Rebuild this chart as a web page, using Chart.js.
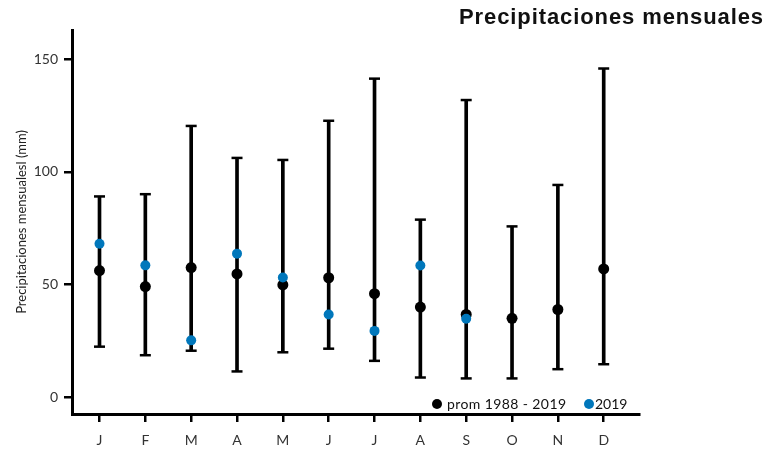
<!DOCTYPE html>
<html>
<head>
<meta charset="utf-8">
<script src="https://cdn.jsdelivr.net/npm/chart.js@4.4.0/dist/chart.umd.min.js"></script>
<style>
  html, body { margin: 0; padding: 0; background: #fff; }
  #wrap { position: relative; width: 774px; height: 449px; }
  #c { position: absolute; left: 0; top: 0; }
  #title { position: absolute; right: 10px; top: 6px; line-height: 22px; font-family: "Liberation Sans", Arial, sans-serif; font-weight: bold; font-size: 22px; letter-spacing: 0.9px; color: #111; white-space: nowrap; }
  .lg { position: absolute; font-family: Lato, "Noto Sans", sans-serif; font-size: 14px; line-height: 16px; color: #111; white-space: nowrap; top: 396px; }
  .dot { position: absolute; width: 10px; height: 10px; border-radius: 50%; top: 399px; }
</style>
</head>
<body>
<div id="wrap">
  <canvas id="c" width="774" height="449"></canvas>
  <div id="title">Precipitaciones mensuales</div>
  <span class="dot" style="left:432px;background:#000"></span>
  <span class="lg" style="left:447px;letter-spacing:0.4px">prom 1988 - 2019</span>
  <span class="dot" style="left:584px;background:#0077bb"></span>
  <span class="lg" style="left:595px">2019</span>
</div>
<script>
const months = ["J","F","M","A","M","J","J","A","S","O","N","D"];
const meanValues = [56.2, 49.1, 57.5, 54.7, 49.8, 53.0, 45.9, 40.0, 36.7, 35.0, 38.9, 56.9];
const minValues  = [22.4, 18.6, 20.6, 11.4, 19.9, 21.5, 16.1, 8.7, 8.3, 8.3, 12.4, 14.6];
const maxValues  = [89.1, 90.1, 120.4, 106.2, 105.3, 122.7, 141.4, 78.8, 131.9, 75.8, 94.2, 145.9];
const values2019 = [68.1, 58.5, 25.2, 63.7, 53.1, 36.7, 29.4, 58.4, 34.8, null, null, null];
const yTicks = [0, 50, 100, 150];

const pos = months.map((m, i) => i + 1);
const ranges = pos.map((x, i) => ({ x: x, y: [minValues[i], maxValues[i]] }));
const caps = pos.map((x, i) => ({ x: x, y: maxValues[i] })).concat(pos.map((x, i) => ({ x: x, y: minValues[i] })));
const meanPts = pos.map((x, i) => ({ x: x, y: meanValues[i] }));
const pts2019 = pos.map((x, i) => ({ x: x, y: values2019[i] })).filter(p => p.y !== null);

const tickFont = { family: "Lato", size: 14, weight: 400 };

new Chart(document.getElementById('c'), {
  data: {
    datasets: [
      { type: 'scatter', label: '2019', data: pts2019, backgroundColor: '#0077bb', borderWidth: 0, pointRadius: 5, order: 0 },
      { type: 'scatter', label: 'prom 1988 - 2019', data: meanPts, backgroundColor: '#000', borderWidth: 0, pointRadius: 5.5, order: 1 },
      { type: 'scatter', label: 'caps', data: caps, pointStyle: 'line', pointRadius: 5.5, borderColor: '#000', borderWidth: 2.5, order: 2 },
      { type: 'bar', label: 'range', data: ranges, backgroundColor: '#000', barThickness: 3, order: 3 }
    ]
  },
  options: {
    responsive: false,
    animation: false,
    events: [],
    layout: { padding: { left: 14, right: 135, top: 30, bottom: 0 } },
    plugins: { legend: { display: false }, tooltip: { enabled: false }, title: { display: false } },
    scales: {
      x: {
        type: 'linear',
        min: 0.40, max: 12.77,
        offset: false,
        afterFit: (s) => { s.height = 35; },
        grid: { display: true, offset: false, drawOnChartArea: false, drawTicks: true, tickLength: 8, color: '#000', lineWidth: 2.5 },
        border: { display: true, color: '#000', width: 3 },
        ticks: {
          stepSize: 1, includeBounds: false, autoSkip: false, maxRotation: 0,
          color: '#333', font: tickFont, padding: 10,
          callback: (v) => months[v - 1] || ''
        }
      },
      y: {
        type: 'linear',
        min: -7.5, max: 163,
        afterBuildTicks: (s) => { s.ticks = yTicks.map(v => ({ value: v })); },
        afterFit: (s) => { s.width = 58; },
        grid: { display: true, drawOnChartArea: false, drawTicks: true, tickLength: 8, color: '#000', lineWidth: 2.5 },
        border: { display: true, color: '#000', width: 3 },
        ticks: { color: '#333', font: tickFont, padding: 6 },
        title: { display: true, text: 'Precipitaciones mensualesl (mm)', color: '#222', font: { family: "Lato", size: 13, weight: 400 }, padding: { top: 0, bottom: 0 } }
      }
    }
  }
});
</script>
</body>
</html>
